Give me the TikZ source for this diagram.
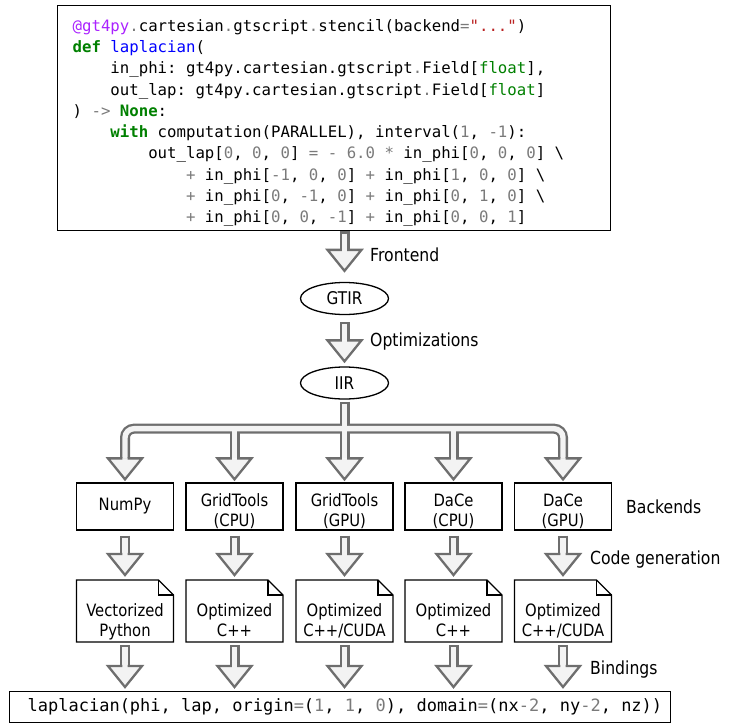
\documentclass[tikz,border=0pt]{standalone}
\usepackage{fontspec}
\setmainfont{DejaVu Sans}[FakeStretch=0.87]
\newfontfamily\codefont{DejaVu Sans Mono}
\usetikzlibrary{calc,shapes.geometric}

\definecolor{decocol}{HTML}{AA22FF}
\definecolor{keycol}{HTML}{008000}
\definecolor{funccol}{HTML}{0000FF}
\definecolor{strcol}{HTML}{BA2121}
\definecolor{numcol}{HTML}{7A7A7A}
\definecolor{arrowline}{HTML}{6E6E6E}
\definecolor{arrowbody}{HTML}{F3F3F3}

\newcommand\kw[1]{\textcolor{keycol}{\bfseries #1}}
\newcommand\nm[1]{\textcolor{numcol}{#1}}
\newcommand\bs{\textbackslash}
\newcommand\cgap{\hspace{0.602em}}

\tikzset{
	codebox/.style={draw, line width=1.3pt, inner ysep=0pt, inner xsep=15pt, align=left,
		font=\codefont\fontsize{15.7}{21.3}\selectfont},
	callbox/.style={draw, line width=1.3pt, inner ysep=0pt, inner xsep=18pt, align=left,
		font=\codefont\fontsize{17}{20}\selectfont},
	irnode/.style={ellipse, draw, line width=1.3pt, minimum width=88pt, minimum height=32pt,
		inner sep=0pt, font=\fontsize{17.5}{20}\selectfont},
	backend/.style={draw, line width=1.3pt, minimum width=97pt, minimum height=47pt,
		inner sep=0pt, align=center, font=\fontsize{17}{20}\selectfont},
	twolines/.style={text height=42.4pt, text depth=3pt},
	srcdoc/.style={minimum width=97pt, minimum height=62pt, outer sep=0pt, inner sep=0pt,
		align=center, text height=55.4pt, text depth=4pt, font=\fontsize{17}{20}\selectfont},
	docline/.style={line width=1.3pt, line join=miter},
	stagelbl/.style={anchor=west, inner sep=0pt, font=\fontsize{18}{21}\selectfont},
	shaftout/.style={draw=arrowline, line width=10pt},
	shaftin/.style={draw=arrowbody, line width=5.4pt},
	headedge/.style={draw=arrowline, line width=2.3pt, line join=miter},
}

% hollow arrow head, #1 = tip
\newcommand\headtip[1]{%
	\fill[arrowbody] ($(#1)+(-17,-21)$) -- (#1) -- ($(#1)+(17,-21)$) -- cycle;
	\draw[headedge] ($(#1)+(-2.7,-21)$) -- ($(#1)+(-17,-21)$) -- (#1) -- ($(#1)+(17,-21)$) -- ($(#1)+(2.7,-21)$);
}
% hollow block arrow, #1 = start, #2 = tip
\newcommand\blockarrow[2]{%
	\coordinate (arr-s) at (#1);
	\coordinate (arr-t) at (#2);
	\draw[shaftout] (arr-s) -- ($(arr-t)+(0,-21)$);
	\draw[shaftin] ($(arr-s)+(0,2.3)$) -- ($(arr-t)+(0,-21)$);
	\headtip{arr-t}
}

\begin{document}
\begin{tikzpicture}[x=1pt, y=-1pt]
	\useasboundingbox (0,0) rectangle (731,723);
	
	%%%%% stencil source %%%%%
	\node[codebox, anchor=north west, text width=523pt, text height=25.5pt, text depth=199.5pt] (code) at (57,5) {%
\textcolor{decocol}{@gt4py}\nm{.}cartesian\nm{.}gtscript\nm{.}stencil(backend\nm{=}\textcolor{strcol}{"..."})\\
\kw{def}\cgap\textcolor{funccol}{laplacian}(\\
\phantom{0000}in\_phi:\cgap gt4py.cartesian.gtscript\nm{.}Field[\textcolor{keycol}{float}],\\
\phantom{0000}out\_lap:\cgap gt4py.cartesian.gtscript\nm{.}Field[\textcolor{keycol}{float}]\\
)\cgap\nm{->}\cgap\kw{None}:\\
\phantom{0000}\kw{with}\cgap computation(PARALLEL),\cgap interval(\nm{1},\cgap\nm{-1}):\\
\phantom{00000000}out\_lap[\nm{0},\cgap\nm{0},\cgap\nm{0}]\cgap\nm{=}\cgap\nm{-}\cgap\nm{6.0}\cgap\nm{*}\cgap in\_phi[\nm{0},\cgap\nm{0},\cgap\nm{0}]\cgap\bs\\
\phantom{000000000000}\nm{+}\cgap in\_phi[\nm{-1},\cgap\nm{0},\cgap\nm{0}]\cgap\nm{+}\cgap in\_phi[\nm{1},\cgap\nm{0},\cgap\nm{0}]\cgap\bs\\
\phantom{000000000000}\nm{+}\cgap in\_phi[\nm{0},\cgap\nm{-1},\cgap\nm{0}]\cgap\nm{+}\cgap in\_phi[\nm{0},\cgap\nm{1},\cgap\nm{0}]\cgap\bs\\
\phantom{000000000000}\nm{+}\cgap in\_phi[\nm{0},\cgap\nm{0},\cgap\nm{-1}]\cgap\nm{+}\cgap in\_phi[\nm{0},\cgap\nm{0},\cgap\nm{1}]};
	
	%%%%% IRs %%%%%
	\node[irnode] (gtir) at (344.5,298.5) {GTIR};
	\node[irnode] (iir) at (344.5,383) {IIR};
	
	%%%%% backends %%%%%
	\node[backend] (numpy) at (125,506.5) {NumPy};
	\node[backend, twolines] (gtcpu) at (234.5,506.5) {GridTools\\(CPU)};
	\node[backend, twolines] (gtgpu) at (344.5,506.5) {GridTools\\(GPU)};
	\node[backend, twolines] (dacecpu) at (453.5,506.5) {DaCe\\(CPU)};
	\node[backend, twolines] (dacegpu) at (563,506.5) {DaCe\\(GPU)};
	
	%%%%% generated sources %%%%%
	\node[srcdoc] (vecpy) at (125,611) {Vectorized\\Python};
	\node[srcdoc] (cppgt) at (234.5,611) {Optimized\\C++};
	\node[srcdoc] (cudagt) at (344.5,611) {Optimized\\C++/CUDA};
	\node[srcdoc] (cppdace) at (453.5,611) {Optimized\\C++};
	\node[srcdoc] (cudadace) at (563,611) {Optimized\\C++/CUDA};
	\foreach \d in {vecpy,cppgt,cudagt,cppdace,cudadace}{
		\draw[docline] (\d.north west) -- ($(\d.north east)+(-15,0)$) -- ($(\d.north east)+(0,15)$)
			-- (\d.south east) -- (\d.south west) -- cycle;
		\draw[docline] ($(\d.north east)+(-15,0)$) |- ($(\d.north east)+(0,15)$);
	}
	
	%%%%% python call %%%%%
	\node[callbox, anchor=north west, text width=625pt, minimum height=31pt] (call) at (9,691)
		{\mbox{laplacian(phi,\cgap lap,\cgap origin\nm{=}(\nm{1},\cgap\nm{1},\cgap\nm{0}),\cgap domain\nm{=}(nx\nm{-}\nm{2},\cgap ny\nm{-}\nm{2},\cgap nz))}};
	
	%%%%% stage labels %%%%%
	\node[stagelbl] (lfront) at (370,255) {Frontend};
	\node[stagelbl] (lopt) at (370,342) {Optimizations};
	\node[stagelbl] (lback) at (626,507) {Backends};
	\node[stagelbl] (lcodegen) at (590,560) {Code generation};
	\node[stagelbl] (lbind) at (590,670) {Bindings};
	
	%%%%% arrows %%%%%
	\blockarrow{$(code.south -| gtir)+(0,0)$}{$(gtir.north)+(0,-11)$}
	\blockarrow{$(gtir.south)+(0,7)$}{$(iir.north)+(0,-5)$}
	
	% fan out to the backends
	\coordinate (split) at ($(iir.south)+(0,29)$);
	\draw[shaftout] ($(iir.south)+(0,2)$) -- (split);
	\draw[shaftout, rounded corners=9pt] ($(numpy.north)+(0,-24)$) |- (split) -| ($(dacegpu.north)+(0,-24)$);
	\foreach \c in {gtcpu,gtgpu,dacecpu}{
		\draw[shaftout] (split -| \c) -- ($(\c.north)+(0,-24)$);
	}
	\draw[shaftin] ($(iir.south)+(0,4.3)$) -- (split);
	\draw[shaftin, rounded corners=9pt] ($(numpy.north)+(0,-24)$) |- (split) -| ($(dacegpu.north)+(0,-24)$);
	\foreach \c in {gtcpu,gtgpu,dacecpu}{
		\draw[shaftin] (split -| \c) -- ($(\c.north)+(0,-24)$);
	}
	\foreach \c in {numpy,gtcpu,gtgpu,dacecpu,dacegpu}{
		\coordinate (tip-\c) at ($(\c.north)+(0,-3)$);
		\headtip{tip-\c}
	}
	
	\foreach \b/\d in {numpy/vecpy,gtcpu/cppgt,gtgpu/cudagt,dacecpu/cppdace,dacegpu/cudadace}{
		\blockarrow{$(\b.south)+(0,5)$}{$(\d.north)+(0,-5)$}
	}
	\foreach \d in {vecpy,cppgt,cudagt,cppdace,cudadace}{
		\blockarrow{$(\d.south)+(0,3)$}{$(call.north -| \d)+(0,-4)$}
	}
	
\end{tikzpicture}
\end{document}
